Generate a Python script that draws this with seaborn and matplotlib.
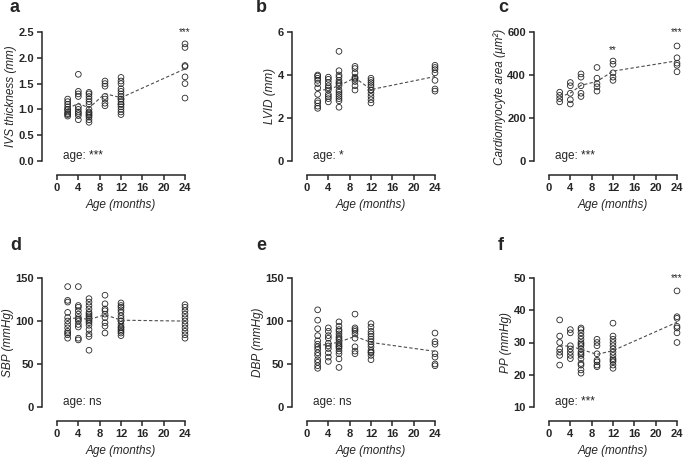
import pandas as pd
import matplotlib.pyplot as plt
import seaborn as sns

sns.set_style("ticks")
plt.rcParams['font.family'] = ['Liberation Sans', 'DejaVu Sans']

ages = [2, 4, 6, 9, 12, 24]

# values per age group, same order as ages
ivs = [
    [0.87, 0.9, 0.92, 0.95, 1.0, 1.0, 1.05, 1.1, 1.15, 1.2],
    [0.8, 0.88, 0.92, 0.95, 1.0, 1.05, 1.25, 1.3, 1.35, 1.68],
    [0.75, 0.8, 0.85, 0.88, 0.9, 0.93, 0.95, 1.0, 1.1, 1.15, 1.2, 1.25, 1.3, 1.33],
    [1.07, 1.12, 1.2, 1.25, 1.45, 1.5, 1.55],
    [0.9, 0.95, 1.0, 1.05, 1.1, 1.1, 1.15, 1.2, 1.2, 1.25, 1.3, 1.35, 1.4, 1.5, 1.55, 1.62],
    [1.22, 1.5, 1.63, 1.83, 1.85, 2.2, 2.27],
]
lvid = [
    [2.45, 2.55, 2.7, 2.8, 3.1, 3.4, 3.6, 3.75, 3.85, 3.95, 4.0],
    [2.75, 2.9, 3.0, 3.1, 3.3, 3.4, 3.5, 3.65, 3.8, 3.9],
    [2.5, 2.8, 2.9, 3.0, 3.1, 3.2, 3.3, 3.5, 3.6, 3.65, 3.75, 3.9, 4.0, 4.2, 5.1],
    [3.3, 3.5, 3.7, 3.8, 3.85, 3.9, 4.1, 4.3, 4.4],
    [2.7, 2.85, 3.0, 3.15, 3.3, 3.3, 3.45, 3.55, 3.65, 3.75, 3.85],
    [3.25, 3.35, 3.75, 4.1, 4.25, 4.35, 4.45],
]
cm_area = [
    [275, 290, 305, 320],
    [265, 285, 315, 350, 365],
    [300, 315, 350, 390, 405],
    [325, 345, 360, 385, 435],
    [375, 390, 410, 450, 465],
    [415, 445, 455, 480, 535],
]
sbp = [
    [80, 84, 86, 88, 92, 96, 100, 104, 110, 122, 124, 140],
    [78, 80, 93, 96, 100, 102, 104, 108, 112, 116, 118, 140],
    [66, 82, 85, 90, 95, 98, 100, 102, 104, 106, 108, 110, 114, 118, 122, 126],
    [86, 94, 98, 104, 108, 112, 114, 120, 130],
    [83, 86, 88, 90, 92, 93, 96, 100, 100, 103, 106, 110, 113, 116, 118, 121],
    [80, 84, 88, 92, 96, 100, 104, 108, 112, 116, 119],
]
dbp = [
    [45, 48, 52, 55, 60, 63, 67, 70, 73, 77, 83, 91, 101, 113],
    [53, 58, 63, 68, 71, 74, 80, 83, 88, 92],
    [46, 56, 62, 65, 68, 70, 71, 73, 75, 78, 80, 82, 85, 88, 90, 94, 99],
    [62, 65, 70, 80, 85, 88, 90, 92, 108],
    [55, 60, 63, 64, 66, 70, 73, 76, 79, 82, 85, 88, 93, 97],
    [48, 50, 58, 62, 73, 76, 86],
]
pp = [
    [23, 26, 27, 28, 30, 32, 37],
    [25, 26, 27, 28, 29, 33, 34],
    [20.5, 21.5, 23, 23.5, 25, 26, 26.5, 27, 28, 29, 29.5, 30, 31, 32, 33, 34, 34.5],
    [22.5, 23, 24, 24.5, 26.5, 29, 30, 31],
    [22, 23, 24, 24.5, 25, 26, 27, 28, 29, 30, 31, 32, 36],
    [30, 33, 34.5, 35, 37.5, 38, 46],
]

panels = [
    ('a', ivs, 'IVS thickness (mm)', [0, 0.5, 1.0, 1.5, 2.0, 2.5], 'age: ***', [(24, 2.5, '***')]),
    ('b', lvid, 'LVID (mm)', [0, 2, 4, 6], 'age: *', []),
    ('c', cm_area, 'Cardiomyocyte area (µm²)', [0, 200, 400, 600], 'age: ***',
     [(12, 515, '**'), (24, 600, '***')]),
    ('d', sbp, 'SBP (mmHg)', [0, 50, 100, 150], 'age: ns', []),
    ('e', dbp, 'DBP (mmHg)', [0, 50, 100, 150], 'age: ns', []),
    ('f', pp, 'PP (mmHg)', [10, 20, 30, 40, 50], 'age: ***', [(24, 50, '***')]),
]

fig = plt.figure(figsize=(6.85, 4.61), dpi=100)
lefts = [57, 307, 549]
bottoms = [161, 407]
letter_x = [10, 256, 498]
letter_y = [8, 245]

for i, (letter, vals, ylabel, yticks, age_txt, stars) in enumerate(panels):
    row, col = divmod(i, 3)
    ax = fig.add_axes([lefts[col] / 685, 1 - bottoms[row] / 461, 128 / 685, 129 / 461])

    df = pd.DataFrame({'age': [a for a, v in zip(ages, vals) for _ in v],
                       'value': [x for v in vals for x in v]})

    sns.lineplot(data=df, x='age', y='value', estimator='mean', errorbar=None,
                 color='0.3', linestyle=(0, (3, 2)), linewidth=0.8, ax=ax)
    sns.scatterplot(data=df, x='age', y='value', marker='o', s=17,
                    facecolor='none', edgecolor='0.15', linewidth=0.6,
                    clip_on=False, ax=ax)

    ax.set_xlim(0, 24)
    ax.set_ylim(yticks[0], yticks[-1])
    ax.set_xticks([0, 4, 8, 12, 16, 20, 24])
    ax.set_yticks(yticks)
    if letter == 'a':
        ax.set_yticklabels([f'{t:.1f}' for t in yticks])

    ax.spines[['top', 'right']].set_visible(False)
    ax.spines['left'].set_position(('outward', 11))
    ax.spines['bottom'].set_position(('outward', 10))
    for s in ['left', 'bottom']:
        ax.spines[s].set_linewidth(1.1)
    ax.tick_params(length=3.5, width=1.1, labelsize=8, pad=2)
    for lab in ax.get_xticklabels() + ax.get_yticklabels():
        lab.set_fontweight('bold')

    ax.set_xlabel('Age (months)', fontsize=8.5, style='italic', labelpad=5)
    ax.set_ylabel(ylabel, fontsize=8.5, style='italic', labelpad=1)

    ax.text(0.05, 0.04, age_txt, transform=ax.transAxes, fontsize=8.5, va='center')
    for sx, sy, st in stars:
        ax.text(sx, sy, st, ha='center', va='center', fontsize=7, clip_on=False)

    fig.text(letter_x[col] / 685, 1 - letter_y[row] / 461, letter,
             fontsize=13, fontweight='bold', va='center', ha='left')

fig.savefig('out.png', dpi=100)
